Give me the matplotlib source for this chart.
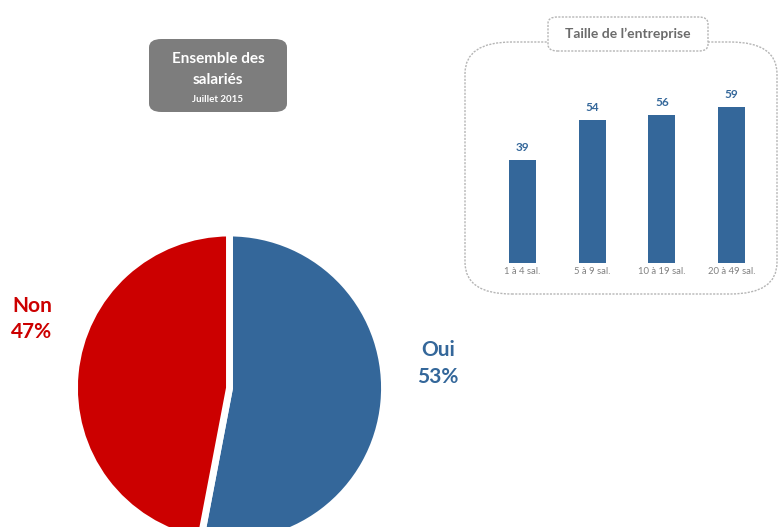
import matplotlib
matplotlib.use("Agg")
import matplotlib.pyplot as plt
from matplotlib.patches import FancyBboxPatch

plt.rcParams['font.family'] = ['Lato', 'DejaVu Sans']

# Data
pie_labels = ["Oui", "Non"]
pie_values = [53, 47]
bar_categories = ["1 à 4 sal.", "5 à 9 sal.", "10 à 19 sal.", "20 à 49 sal."]
bar_values = [39, 54, 56, 59]

BLUE = "#34679a"
RED = "#cc0000"
GRAY_TXT = "#6b6b6b"

W, H = 779, 527
fig = plt.figure(figsize=(W / 100, H / 100), dpi=100)
fig.patch.set_facecolor("white")

def ax_px(x0, y0, x1, y1):
    """axes from pixel box (top-down y)"""
    return fig.add_axes([x0 / W, 1 - y1 / H, (x1 - x0) / W, (y1 - y0) / H])

# ---- Pie ----
cx, cy, r = 229.5, 388, 152
axp = ax_px(cx - r, cy - r, cx + r, cy + r)
axp.pie(pie_values, colors=[BLUE, RED], startangle=90, counterclock=False,
        radius=1.02, wedgeprops=dict(edgecolor="white", linewidth=5))
axp.set_xlim(-1, 1)
axp.set_ylim(-1, 1)
axp.set_aspect("equal")
axp.axis("off")

fig.text(32 / W, 1 - 306 / H, pie_labels[1], color=RED, fontsize=15, fontweight="bold",
         ha="center", va="center")
fig.text(32 / W, 1 - 332 / H, f"{pie_values[1]}%", color=RED, fontsize=15, fontweight="bold",
         ha="center", va="center")
fig.text(438 / W, 1 - 350 / H, pie_labels[0], color=BLUE, fontsize=15, fontweight="bold",
         ha="center", va="center")
fig.text(438 / W, 1 - 377 / H, f"{pie_values[0]}%", color=BLUE, fontsize=15, fontweight="bold",
         ha="center", va="center")

# ---- Gray title box ----
box = FancyBboxPatch((149 / W, 1 - 112 / H), 138 / W, 73 / H,
                     boxstyle="round,pad=0,rounding_size=0.016",
                     transform=fig.transFigure, facecolor="#7d7d7d", edgecolor="none")
fig.patches.append(box)
fig.text(218 / W, 1 - 59 / H, "Ensemble des", color="white", fontsize=11, fontweight="bold",
         ha="center", va="center")
fig.text(218 / W, 1 - 80 / H, "salariés", color="white", fontsize=11, fontweight="bold",
         ha="center", va="center")
fig.text(218 / W, 1 - 100 / H, "Juillet 2015", color="white", fontsize=7, fontweight="bold",
         ha="center", va="center")

# ---- Dashed rounded frame ----
frame = FancyBboxPatch((465 / W, 1 - 294 / H), 312 / W, 252 / H,
                       boxstyle="round,pad=0,rounding_size=0.06",
                       transform=fig.transFigure, facecolor="none", edgecolor="#b5b5b5",
                       linewidth=1, linestyle=(0, (1.5, 1)))
fig.patches.append(frame)
tbox = FancyBboxPatch((548 / W, 1 - 51 / H), 160 / W, 34 / H,
                      boxstyle="round,pad=0,rounding_size=0.012",
                      transform=fig.transFigure, facecolor="white", edgecolor="#b5b5b5",
                      linewidth=1, linestyle=(0, (1.5, 1)))
fig.patches.append(tbox)
fig.text(628 / W, 1 - 34 / H, "Taille de l’entreprise", color=GRAY_TXT, fontsize=10,
         fontweight="bold", ha="center", va="center")

# ---- Bar chart ----
spacing = 69.7
xc = 627
axb = ax_px(xc - 2 * spacing, 263 - 70 * 2.64, xc + 2 * spacing, 263)
xs = list(range(len(bar_categories)))
bars = axb.bar(xs, bar_values, width=0.39, color=BLUE)
axb.set_xlim(-0.5, 3.5)
axb.set_ylim(0, 70)
for x, v in zip(xs, bar_values):
    axb.annotate(str(v), (x, v), xytext=(0, 5), textcoords="offset points",
                 ha="center", va="bottom", color=BLUE, fontsize=8.5, fontweight="bold")
axb.set_xticks(xs)
axb.set_xticklabels(bar_categories, fontsize=6.8, color="#808080")
axb.tick_params(axis="x", length=0, pad=3)
axb.set_yticks([])
for s in axb.spines.values():
    s.set_visible(False)
axb.patch.set_alpha(0)

fig.savefig("out.png", dpi=100, facecolor="white")
